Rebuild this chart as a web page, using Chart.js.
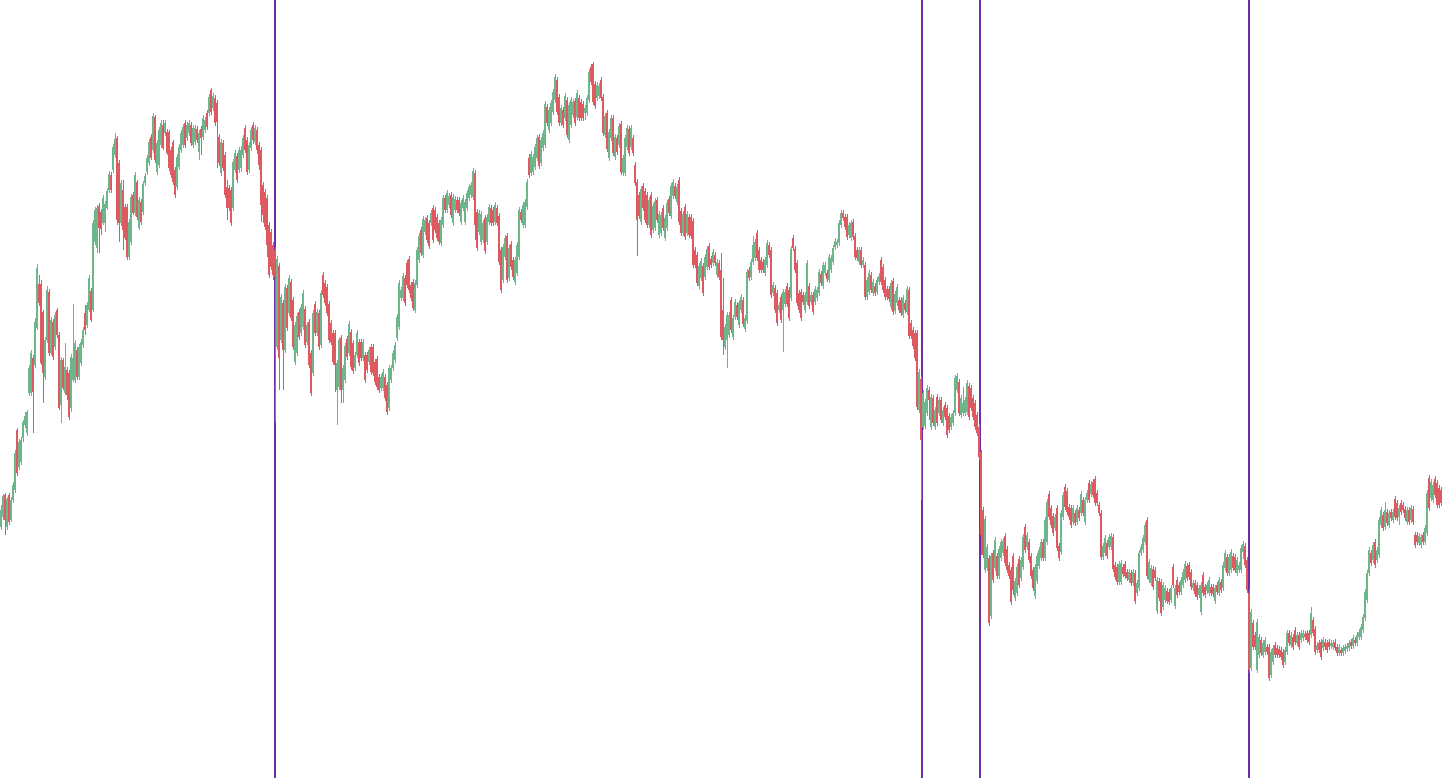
<!DOCTYPE html>
<html><head><meta charset="utf-8">
<script src="https://cdn.jsdelivr.net/npm/chart.js@4.4.1/dist/chart.umd.min.js"></script>
<style>html,body{margin:0;padding:0;background:#fff;overflow:hidden}#wrap{width:1442px;height:778px}</style>
</head><body><div id="wrap"><canvas id="c" width="1442" height="778"></canvas></div>
<script>
const opens = [
273,283,305,273,305,280,300,310,370,333,
338,362,375,367,407,407,442,435,472,516,
516,488,423,460,508,447,478,453,490,465,
395,440,407,430,427,392,420,420,450,423,
437,455,487,475,490,509,490,558,552,594,
588,577,577,592,610,625,630,645,662,637,
577,610,593,593,543,558,605,587,618,572,
598,588,617,628,637,663,650,683,628,635,
655,675,667,668,668,650,658,630,613,633,
650,655,677,662,667,675,655,658,671,648,
671,663,670,687,687,710,692,702,697,663,
627,657,645,613,612,610,592,630,644,630,
632,645,672,660,630,652,675,658,670,655,
650,615,608,602,575,568,555,550,453,534,
460,497,450,512,487,518,500,438,447,488,
467,473,491,458,478,447,427,496,467,487,
455,525,517,513,496,477,467,467,410,413,
462,410,420,461,447,468,457,432,445,458,
458,442,445,445,438,453,453,438,441,423,
412,412,423,415,392,420,432,440,462,473,
502,502,522,537,541,515,518,490,515,540,
570,545,568,582,577,577,592,590,583,577,
557,575,602,590,595,605,577,590,600,600,
578,592,578,592,602,605,603,627,588,568,
558,560,582,558,578,592,590,578,592,584,
550,520,543,564,522,556,540,518,527,543,
588,575,575,593,642,627,628,633,642,663,
637,652,655,693,670,677,688,700,720,703,
677,690,682,700,660,675,685,699,683,702,
698,696,687,687,700,733,736,716,702,704,
720,703,665,687,642,662,682,643,662,655,
676,627,627,653,671,653,662,635,618,605,
578,614,609,605,575,605,570,572,600,565,
567,592,562,572,601,584,604,614,598,620,
589,567,593,567,583,583,579,550,545,514,
522,534,523,533,554,541,537,545,525,537,
530,490,453,460,465,500,463,483,495,475,
490,500,471,479,530,523,538,542,567,550,
540,538,527,535,555,550,507,512,507,490,
503,490,496,514,510,502,562,551,537,507,
508,505,490,498,514,498,505,498,502,507,
526,514,527,527,520,530,538,553,555,557,
575,587,583,583,565,562,578,564,550,538,
550,535,535,503,508,525,507,514,508,518,
540,533,520,511,511,493,519,489,497,500,
500,485,497,488,510,477,470,467,467,390,
421,373,374,387,410,373,402,373,403,387,
400,377,395,392,384,373,377,387,410,418,
385,387,387,388,414,412,402,397,385,373,
348,290,230,232,242,184,247,232,244,224,
242,247,264,251,235,230,244,202,207,241,
222,233,273,253,258,244,230,204,219,234,
242,258,242,258,306,292,284,272,292,254,
248,283,313,309,293,292,278,287,278,290,
287,300,278,300,317,306,318,321,307,295,
287,243,247,257,253,253,263,235,233,218,
218,233,236,228,220,227,217,227,207,212,
247,250,258,280,220,217,231,230,189,219,
218,193,200,209,208,200,233,194,220,215,
208,215,220,234,235,228,212,217,215,205,
188,225,213,209,207,213,213,199,215,207,
218,212,232,243,227,230,244,243,227,230,
230,248,254,240,207,132,177,165,130,145,
160,145,148,153,153,125,138,155,152,151,
150,148,138,148,167,155,163,170,157,165,
160,162,166,167,167,165,180,171,150,157,
158,152,158,157,158,154,153,158,153,147,
150,147,149,151,152,158,154,160,157,163,
163,170,182,200,227,247,240,258,240,245,
275,285,273,288,275,288,280,301,297,283,
297,295,291,278,290,280,291,265,265,257,
255,265,258,267,322,302,300,321,317,312,
310];
const highs = [
295,306,307,303,307,303,318,350,372,361,
363,380,388,390,435,450,445,482,536,525,
520,490,463,514,511,483,481,488,492,468,
443,442,457,433,430,446,496,460,453,456,
461,473,495,498,525,512,580,593,595,597,
591,605,599,612,629,628,656,667,664,640,
620,620,596,596,581,606,608,628,620,603,
601,619,627,645,661,666,687,685,660,673,
680,680,680,671,670,653,660,633,646,656,
670,676,680,678,680,678,675,675,674,670,
674,685,683,690,706,712,707,705,700,666,
661,660,648,620,615,613,641,650,647,653,
654,665,675,663,658,673,678,675,673,658,
653,618,611,605,578,571,558,553,544,537,
506,500,516,515,525,521,503,478,487,491,
496,510,494,478,481,450,490,499,491,490,
510,528,520,516,499,480,470,470,440,463,
465,435,457,464,479,471,460,448,470,461,
461,461,448,448,453,456,456,441,444,426,
426,431,426,418,435,435,450,458,486,520,
513,527,525,540,544,518,521,520,553,567,
573,584,583,585,580,590,595,593,586,580,
583,605,605,610,607,608,606,604,603,603,
600,605,601,610,616,618,632,630,591,590,
589,580,585,586,596,595,593,598,595,587,
553,556,565,567,555,559,543,543,558,593,
591,598,601,621,646,649,646,656,665,666,
663,670,699,696,693,700,711,726,723,706,
695,693,707,703,698,703,701,702,710,705,
701,699,695,705,731,736,738,719,718,717,
723,706,687,690,671,685,685,666,665,677,
679,645,665,675,674,675,665,638,621,608,
614,617,612,608,603,608,597,602,603,589,
588,595,585,600,604,617,621,617,616,623,
592,589,596,589,586,586,582,553,548,537,
542,537,546,554,557,544,551,548,541,540,
547,522,476,488,488,503,485,501,498,500,
506,503,485,531,533,541,564,561,570,553,
543,541,543,560,558,553,518,515,510,498,
506,511,511,517,513,554,565,554,540,510,
511,508,508,540,517,508,508,514,513,531,
529,538,538,530,546,545,555,562,561,580,
590,590,586,586,578,580,581,567,553,553,
553,543,538,523,530,528,521,517,523,527,
543,536,523,514,514,520,522,509,516,503,
503,505,500,514,513,480,473,470,470,431,
424,410,401,415,413,406,405,393,406,403,
403,393,398,395,387,386,390,425,427,421,
405,413,403,420,417,415,405,400,388,376,
350,293,284,256,245,247,250,263,247,254,
261,262,267,254,238,233,247,222,236,244,
243,266,276,268,261,247,233,236,247,253,
261,261,283,301,309,295,287,286,295,257,
290,308,316,312,296,295,295,290,295,293,
309,303,303,310,320,319,321,324,310,298,
290,257,265,260,266,267,266,238,236,239,
240,236,239,231,231,230,231,230,220,250,
256,265,278,283,241,235,234,233,223,222,
221,218,215,212,211,215,236,215,223,218,
223,231,239,237,238,231,220,220,218,215,
218,228,216,218,223,216,216,215,218,223,
221,238,250,246,246,251,247,246,243,238,
255,259,257,243,210,191,180,168,181,166,
163,160,163,156,156,151,155,158,155,154,
153,151,153,170,170,168,166,173,168,168,
170,170,169,170,170,193,183,174,158,160,
161,163,161,160,161,160,160,161,156,156,
153,155,156,157,160,161,165,163,168,171,
176,186,211,230,253,250,258,261,253,283,
293,288,298,291,290,291,291,304,300,295,
300,298,294,293,293,295,294,268,268,267,
266,268,275,310,325,321,318,324,320,315,
313];
const lows = [
270,280,265,270,275,278,297,307,324,330,
335,358,372,364,404,404,367,432,470,494,
435,397,420,457,444,445,440,450,462,390,
377,410,405,400,380,388,418,417,420,420,
434,452,465,472,488,478,488,555,547,547,
565,575,568,590,607,607,627,642,575,558,
574,550,560,540,540,555,585,584,580,570,
575,585,614,625,634,640,647,637,625,632,
652,650,664,645,629,622,615,602,610,630,
647,652,652,659,664,654,652,655,657,640,
645,660,667,670,684,685,689,674,632,634,
624,629,602,580,589,574,589,627,617,627,
628,642,647,625,627,649,656,655,646,630,
578,577,570,543,522,530,520,378,450,410,
457,410,447,469,484,479,450,435,444,460,
464,470,452,455,432,404,424,464,464,450,
452,502,494,484,457,455,435,408,375,410,
397,397,417,440,444,430,426,429,442,434,
439,439,417,427,435,425,424,415,410,407,
409,409,399,385,389,417,429,437,459,470,
499,499,494,512,507,499,489,487,512,537,
544,542,565,557,551,574,557,567,559,555,
554,572,587,587,592,582,574,587,587,584,
575,589,575,589,599,602,600,560,549,565,
555,557,546,555,575,574,574,575,574,535,
507,517,540,517,519,530,520,515,524,540,
577,572,572,590,622,624,625,630,639,631,
634,649,652,674,667,674,685,697,685,674,
674,672,679,662,657,672,682,674,680,679,
679,679,680,684,697,715,695,691,699,701,
699,664,662,648,639,659,644,640,645,652,
625,624,624,650,644,650,644,614,544,581,
575,589,577,572,572,562,567,569,577,562,
564,569,559,569,584,581,601,601,595,575,
564,564,560,564,562,561,532,532,514,511,
519,504,520,530,530,532,534,534,522,520,
460,445,450,432,462,467,460,480,480,472,
487,473,468,476,519,520,535,539,539,527,
527,527,524,532,542,502,504,487,474,487,
477,448,493,493,479,499,549,527,494,487,
479,495,487,495,491,495,485,495,499,504,
514,511,524,518,517,527,535,550,552,554,
572,579,570,560,562,559,560,540,539,535,
532,532,500,500,505,507,504,504,505,515,
515,507,500,500,498,490,485,486,494,487,
484,482,487,485,461,461,451,439,390,387,
300,370,371,384,380,370,374,370,374,384,
377,374,380,362,367,370,374,384,407,384,
382,384,384,385,380,389,380,370,364,340,
245,242,227,229,174,181,217,229,221,221,
239,244,234,227,221,195,205,199,204,212,
219,230,247,250,237,221,209,201,216,231,
239,239,239,255,280,272,264,269,249,239,
245,280,290,285,280,272,275,274,275,279,
284,284,275,297,297,303,302,294,294,284,
240,240,244,241,250,250,228,220,215,215,
215,223,221,219,217,214,214,196,204,209,
244,247,255,221,217,214,210,219,186,199,
184,190,197,196,195,197,212,191,202,205,
205,212,217,219,220,210,209,203,200,202,
185,204,202,206,204,204,203,196,205,204,
207,209,229,224,224,227,229,227,224,227,
227,241,232,207,127,129,150,150,127,142,
144,142,145,145,119,122,135,142,142,142,
140,132,135,145,154,152,150,155,154,150,
157,159,160,157,155,162,164,145,147,147,
140,149,150,147,150,151,150,149,144,144,
144,144,146,148,149,151,151,154,154,160,
160,167,179,197,224,234,237,232,237,242,
272,269,270,274,272,279,277,280,279,275,
285,287,279,275,275,277,275,252,255,254,
252,255,255,264,289,299,297,302,292,292,
294];
const closes = [
290,304,280,301,278,300,315,347,327,358,
360,378,384,388,432,447,408,478,532,497,
437,427,460,510,447,480,443,485,465,392,
440,412,433,405,383,443,442,457,423,453,
458,470,470,495,522,480,577,590,592,572,
571,602,596,609,626,610,653,661,580,577,
617,570,562,543,578,603,587,625,583,600,
578,616,624,642,658,642,684,640,657,670,
677,652,677,647,632,625,618,605,643,653,
667,673,655,675,677,657,672,672,660,667,
662,682,680,673,703,688,704,677,678,637,
658,632,605,592,592,577,638,647,620,650,
650,662,650,628,655,670,660,672,650,635,
595,585,573,555,525,533,525,523,541,442,
503,450,513,472,522,482,453,475,484,463,
493,507,455,475,435,407,487,467,488,453,
507,505,497,487,460,458,438,435,437,460,
410,432,454,443,476,433,429,445,467,437,
442,458,420,430,450,428,427,418,413,410,
423,428,402,388,432,432,447,455,483,517,
510,524,497,515,510,502,492,517,550,564,
547,581,580,560,554,587,560,570,562,558,
580,602,590,607,604,585,603,601,590,587,
597,602,598,607,613,615,629,575,552,587,
586,577,549,583,593,577,577,595,577,538,
510,553,562,520,552,533,523,540,555,590,
580,595,598,618,625,646,643,653,662,634,
660,667,696,677,690,697,708,723,688,677,
692,675,704,665,695,700,698,677,707,682,
682,682,692,702,728,718,698,694,715,714,
702,667,684,651,668,682,647,663,648,674,
628,642,662,672,647,672,647,617,580,584,
611,592,580,575,600,565,594,599,580,586,
585,572,582,597,587,614,618,604,613,578,
567,586,563,586,565,564,535,535,517,534,
539,507,543,551,533,535,548,537,538,523,
463,460,473,485,485,470,482,498,483,497,
503,476,482,528,522,538,555,558,542,530,
530,530,540,557,545,505,515,490,477,495,
480,508,508,496,482,551,552,530,497,490,
482,498,505,537,494,505,488,511,510,528,
517,535,535,521,543,542,552,559,558,577,
587,582,573,563,575,577,563,543,542,550,
535,540,503,520,527,510,518,507,520,524,
518,510,503,503,501,517,488,506,513,490,
487,502,490,511,464,464,454,442,393,428,
360,407,398,412,400,403,377,390,377,400,
380,390,383,365,370,383,387,422,424,387,
402,397,400,417,383,392,383,373,367,343,
265,245,281,253,177,244,220,260,224,251,
258,259,237,230,224,198,210,219,233,215,
240,263,250,265,240,224,212,233,244,250,
258,242,280,298,283,275,267,283,252,242,
287,305,293,288,283,275,292,277,292,282,
306,287,300,307,300,316,305,297,297,287,
243,254,262,244,263,264,231,223,218,236,
237,226,224,222,228,217,228,199,217,247,
253,262,275,224,238,232,213,222,220,202,
187,215,212,199,198,212,215,212,205,208,
220,228,236,222,223,213,217,206,203,212,
215,207,205,215,220,207,206,212,208,220,
210,235,247,227,243,248,232,230,240,235,
252,256,235,210,130,188,153,153,178,163,
147,157,160,148,122,148,152,145,145,145,
143,135,150,167,157,165,153,158,165,153,
167,167,163,160,158,187,167,148,155,150,
143,160,153,150,153,157,157,152,147,153,
147,152,153,154,157,154,162,157,165,168,
173,183,208,227,250,237,255,235,250,280,
290,272,290,277,287,282,288,283,282,292,
288,290,282,290,278,292,278,255,258,264,
263,258,272,307,292,318,315,305,295,295,
297];
const eventPositions = [137, 460.5, 489.5, 624];
const priceMin = 22, priceMax = 800;
const upColor = '#6db68b', downColor = '#de5a60', eventColor = '#6f2ea6';

const labels = opens.map((_, i) => 'T' + (i + 1));
const bodies = opens.map((o, i) => [o, closes[i]]);
const wicks = lows.map((l, i) => ({ x: i, y: [l, highs[i]] }));
const colors = opens.map((o, i) => closes[i] >= o ? upColor : downColor);

const eventLines = {
  id: 'eventLines',
  beforeDatasetsDraw(chart) {
    const {ctx, chartArea, scales} = chart;
    const x = scales.x;
    ctx.save();
    ctx.strokeStyle = eventColor;
    ctx.lineWidth = 2;
    eventPositions.forEach(pos => {
      const px = Math.round(x.getPixelForValue(pos));
      ctx.beginPath();
      ctx.moveTo(px, chartArea.top);
      ctx.lineTo(px, chartArea.bottom);
      ctx.stroke();
    });
    ctx.restore();
  }
};

new Chart(document.getElementById('c'), {
  type: 'bar',
  data: {
    labels,
    datasets: [
      { label: 'body', data: bodies, backgroundColor: colors, barThickness: 2, grouped: false, borderWidth: 0, inflateAmount: 0, order: 0, xAxisID: 'x' },
      { label: 'wick', data: wicks, backgroundColor: colors, barThickness: 1, grouped: false, borderWidth: 0, inflateAmount: 0, order: 1, xAxisID: 'xw' }
    ]
  },
  options: {
    responsive: false,
    animation: false,
    devicePixelRatio: 1,
    layout: { padding: 0 },
    plugins: { legend: { display: false }, tooltip: { enabled: false } },
    scales: {
      x: { display: false, offset: true, grid: { display: false } },
      xw: { type: 'linear', display: false, min: -0.75, max: opens.length - 0.75, offset: false, grid: { display: false } },
      y: { display: false, min: priceMin, max: priceMax }
    }
  },
  plugins: [eventLines]
});
</script>
</body></html>
